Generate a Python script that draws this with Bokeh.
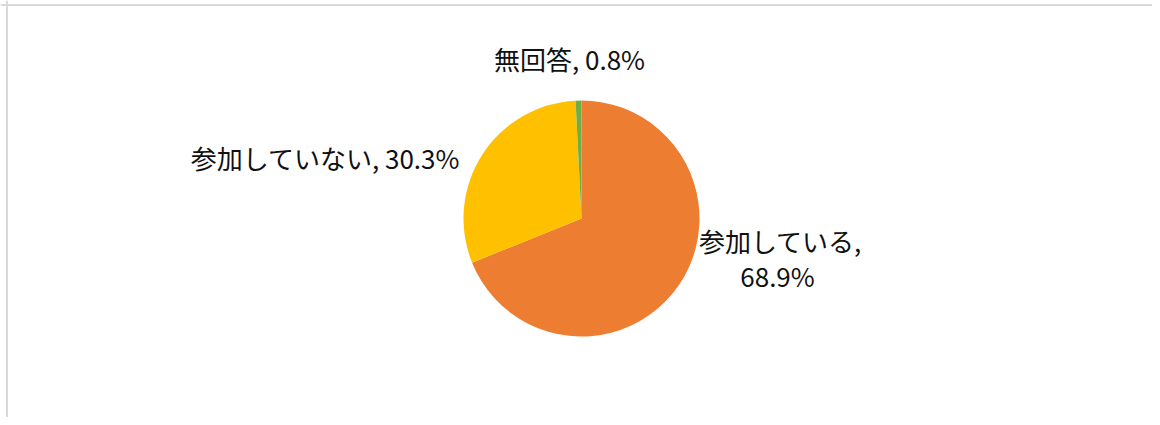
import math
from bokeh.plotting import figure
from bokeh.models import Range1d, Span, ColumnDataSource
from bokeh.core.properties import value
from bokeh.embed import file_html
from bokeh.resources import INLINE

# ---- data ----
categories = ["参加している", "参加していない", "無回答"]
percents = [68.9, 30.3, 0.8]
colors = ["#ED7D31", "#FFC000", "#70AD47"]

# ---- layout (image pixels) ----
W, H = 1152, 417
cx, cy, r = 581, 218, 118
FONT = "Noto Sans CJK JP"

p = figure(width=W, height=H, output_backend="svg", toolbar_location=None,
           x_range=Range1d(0, W), y_range=Range1d(-H, 0),
           min_border=0)
p.axis.visible = False
p.grid.visible = False
p.outline_line_color = None
p.background_fill_color = "white"
p.border_fill_color = "white"

total = sum(percents)
starts, ends = [], []
cum = 0.0
for v in percents:
    starts.append(math.pi / 2 - 2 * math.pi * cum / total)
    cum += v
    ends.append(math.pi / 2 - 2 * math.pi * cum / total)

src = ColumnDataSource(dict(x=[cx] * len(percents), y=[-cy] * len(percents),
                            start=starts, end=ends, color=colors))
p.wedge(x="x", y="y", radius=r, radius_units="screen", start_angle="start",
        end_angle="end", direction="clock", fill_color="color", line_color=None,
        source=src)

# labels: category, value (first label wraps onto two lines)
texts = [f"{categories[0]},", f"{percents[0]}%",
         f"{categories[1]}, {percents[1]}%",
         f"{categories[2]}, {percents[2]}%"]
label_x = [780, 777, 325, 569]
label_y = [240, 275, 157, 58]

lsrc = ColumnDataSource(dict(x=label_x, y=[-y for y in label_y], text=texts))
p.text(x="x", y="y", text="text", source=lsrc, text_font=value(FONT),
       text_font_size="26px", text_align="center", text_baseline="middle",
       text_color="#111111")

p.add_layout(Span(location=-4.5, dimension="width", line_color="#d9d9d9", line_width=2))
p.add_layout(Span(location=6.5, dimension="height", line_color="#d9d9d9", line_width=2))

open("out.html", "w").write(file_html(p, INLINE))
